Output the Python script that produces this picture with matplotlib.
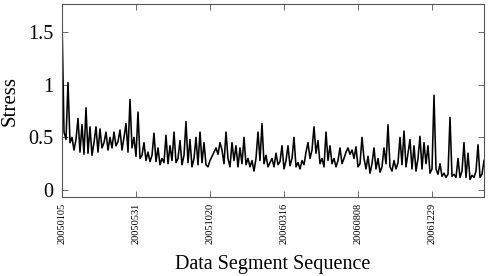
import numpy as np
import matplotlib
matplotlib.use("Agg")
import matplotlib.pyplot as plt

# stress per data segment
stress = [
    1.62, 0.55, 0.48, 1.02, 0.45, 0.50, 0.38, 0.48, 0.68, 0.36,
    0.62, 0.34, 0.78, 0.35, 0.60, 0.33, 0.45, 0.60, 0.36, 0.58,
    0.40, 0.45, 0.55, 0.38, 0.50, 0.40, 0.55, 0.42, 0.46, 0.57,
    0.38, 0.50, 0.63, 0.36, 0.86, 0.40, 0.50, 0.32, 0.74, 0.30,
    0.33, 0.45, 0.28, 0.36, 0.27, 0.33, 0.54, 0.27, 0.40, 0.24,
    0.30, 0.26, 0.52, 0.25, 0.42, 0.28, 0.55, 0.26, 0.30, 0.47,
    0.24, 0.33, 0.65, 0.26, 0.48, 0.22, 0.30, 0.50, 0.24, 0.55,
    0.26, 0.45, 0.24, 0.22, 0.28, 0.32, 0.36, 0.40, 0.34, 0.45,
    0.38, 0.25, 0.55, 0.30, 0.22, 0.45, 0.28, 0.42, 0.22, 0.40,
    0.25, 0.50, 0.24, 0.30, 0.22, 0.28, 0.18, 0.30, 0.55, 0.28,
    0.63, 0.25, 0.33, 0.22, 0.26, 0.30, 0.22, 0.35, 0.24, 0.27,
    0.42, 0.20, 0.28, 0.42, 0.23, 0.30, 0.50, 0.22, 0.26, 0.20,
    0.28, 0.24, 0.36, 0.45, 0.30, 0.38, 0.60, 0.35, 0.47, 0.25,
    0.30, 0.22, 0.55, 0.28, 0.42, 0.25, 0.30, 0.22, 0.28, 0.40,
    0.25, 0.30, 0.36, 0.40, 0.34, 0.38, 0.30, 0.41, 0.22, 0.25,
    0.50, 0.30, 0.20, 0.32, 0.16, 0.25, 0.40, 0.20, 0.30, 0.17,
    0.22, 0.40, 0.25, 0.62, 0.22, 0.18, 0.28, 0.20, 0.26, 0.50,
    0.24, 0.56, 0.22, 0.35, 0.48, 0.20, 0.42, 0.18, 0.30, 0.51,
    0.20, 0.45, 0.25, 0.42, 0.16, 0.20, 0.90, 0.20, 0.15, 0.25,
    0.13, 0.16, 0.12, 0.15, 0.69, 0.13, 0.15, 0.12, 0.30, 0.12,
    0.18, 0.45, 0.12, 0.35, 0.10, 0.14, 0.12, 0.18, 0.43, 0.12,
    0.15, 0.28,
]
tick_pos = [0, 37, 74, 111, 148, 185]
tick_labels = ["20050105", "20050531", "20051020", "20060316", "20060808", "20061229"]

plt.rcParams["font.family"] = ["Liberation Serif", "DejaVu Serif"]

fig = plt.figure(figsize=(4.9, 2.76), dpi=100)
ax = fig.add_axes([62 / 490, 1 - 197 / 276, 422 / 490, 193 / 276])

seg = np.arange(len(stress))
ax.plot(seg, stress, color="black", linewidth=1.15)

ax.set_xlim(0, len(stress) - 1)
ax.set_ylim(-0.066, 1.766)
ax.set_yticks([0, 0.5, 1, 1.5])
ax.set_yticklabels(["0", "0.5", "1", "1.5"], fontsize=14.5)
ax.set_xticks(tick_pos)
ax.set_xticklabels(tick_labels, rotation=90, fontsize=7.5)

ax.tick_params(direction="in", top=True, right=True, length=4, width=0.6, color="#555555")
ax.tick_params(axis="y", pad=6)
ax.tick_params(axis="x", pad=4)
for s in ax.spines.values():
    s.set_color("#555555")
    s.set_linewidth(0.8)

ax.set_ylabel("Stress", fontsize=15, labelpad=6)
ax.set_xlabel("Data Segment Sequence", fontsize=14.5, labelpad=8)

fig.savefig("out.png", dpi=100)
